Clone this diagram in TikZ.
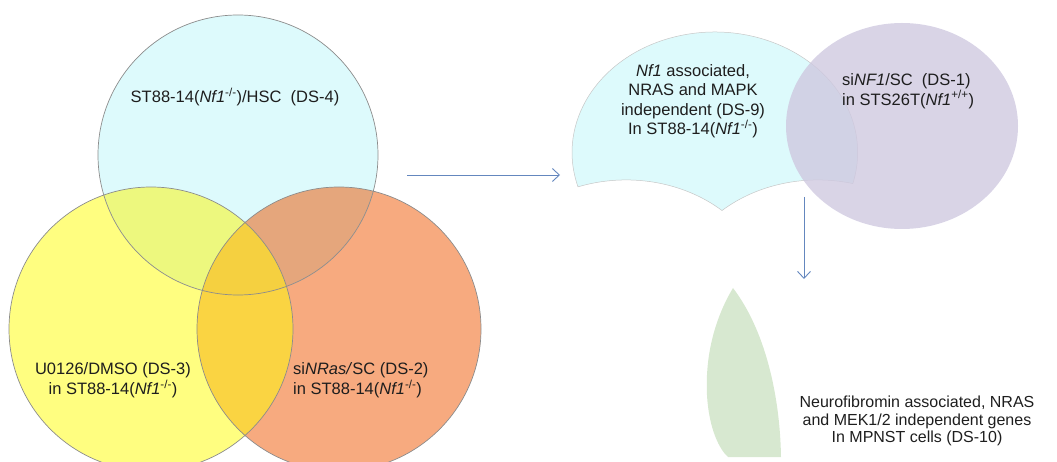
\documentclass[tikz,border=0pt]{standalone}
\usepackage{fontspec}
\setmainfont{Liberation Sans}
\usetikzlibrary{arrows.meta}
\definecolor{cA}{HTML}{DDFAFC}
\definecolor{cB}{HTML}{FFFE80}
\definecolor{cC}{HTML}{F7AA7F}
\definecolor{cAB}{HTML}{EDF87E}
\definecolor{cAC}{HTML}{E5A67C}
\definecolor{cBC}{HTML}{FAD442}
\definecolor{cABC}{HTML}{F5D040}
\definecolor{cP}{HTML}{CFC9E0}
\definecolor{cG}{HTML}{D7E8D0}
\definecolor{arrowc}{HTML}{6487BE}
\definecolor{txtc}{HTML}{1E1E1E}
\begin{document}
\begin{tikzpicture}[x=1pt,y=1pt,
  txt/.style={text=txtc, font=\fontsize{16.5}{20}\selectfont, inner sep=0pt},
  vout/.style={draw=black!45, line width=0.7pt},
  conn/.style={draw=arrowc, line width=0.9pt, -{Straight Barb[length=7pt,width=13pt]}}]
\useasboundingbox (0,0) rectangle (1057,-462);
% left Venn diagram
\coordinate (A) at (238,-155);
\coordinate (B) at (151,-329);
\coordinate (C) at (339,-329);
\fill[cB] (B) circle (142pt);
\fill[cC] (C) circle (142pt);
\fill[cA] (A) circle (140pt);
\begin{scope}
  \clip (A) circle (140pt);
  \fill[cAB] (B) circle (142pt);
  \fill[cAC] (C) circle (142pt);
\end{scope}
\begin{scope}
  \clip (B) circle (142pt);
  \fill[cBC] (C) circle (142pt);
  \clip (A) circle (140pt);
  \fill[cABC] (C) circle (142pt);
\end{scope}
\draw[vout] (A) circle (140pt);
\draw[vout] (B) circle (142pt);
\draw[vout] (C) circle (142pt);
% right: DS-9 region (DS-4 minus DS-3 and DS-2)
\begin{scope}[shift={(472.08,-19.1)}, xscale=1.02, yscale=0.86]
  \filldraw[fill=cA, draw=black!22, line width=0.5pt]
    (103.86,-195.05) arc[start angle=196.62, end angle=-14.98, radius=140pt]
    arc[start angle=76.05, end angle=131.45, radius=142pt]
    arc[start angle=48.55, end angle=109.39, radius=142pt] -- cycle;
\end{scope}
% DS-1 circle
\fill[cP, opacity=0.8] (902,-126) ellipse [x radius=116pt, y radius=103pt];
% DS-10 leaf
\fill[cG] (733,-288) .. controls (715,-318) and (705,-355) .. (707,-395)
  .. controls (709,-430) and (720,-450) .. (728,-457) -- (781,-457)
  .. controls (780,-395) and (765,-330) .. (733,-288) -- cycle;
% arrows
\coordinate (h1) at (407,-175);
\coordinate (h2) at (560,-175);
\draw[conn] (h1) -- (h2);
\coordinate (v1) at (804,-197);
\coordinate (v2) at (804,-279);
\draw[conn] (v1) -- (v2);
% labels
\node[txt] (t4) at (235,-97) {ST88-14(\textit{Nf1}\textsuperscript{-/-})/HSC\ \ (DS-4)};
\node[txt, align=center] (t3) at (113,-380) {U0126/DMSO (DS-3)\\in ST88-14(\textit{Nf1}\textsuperscript{-/-})};
\node[txt, align=left, anchor=west] (t2) at (293,-380) {si\textit{NRas/}SC (DS-2)\\in ST88-14(\textit{Nf1}\textsuperscript{-/-})};
\node[txt, align=center, font=\fontsize{16.5}{19.5}\selectfont] (t9) at (693,-101) {\textit{Nf1} associated,\\NRAS and MAPK\\independent (DS-9)\\In ST88-14(\textit{Nf1}\textsuperscript{-/-})};
\node[txt, align=left, anchor=west] (t1) at (842,-91) {si\textit{NF1}/SC\ \ (DS-1)\\in STS26T(\textit{Nf1}\textsuperscript{+/+})};
\node[txt, align=center, font=\fontsize{16}{17.7}\selectfont] (t10) at (917,-421) {Neurofibromin associated, NRAS\\and MEK1/2 independent genes\\In MPNST cells (DS-10)};
\end{tikzpicture}
\end{document}
